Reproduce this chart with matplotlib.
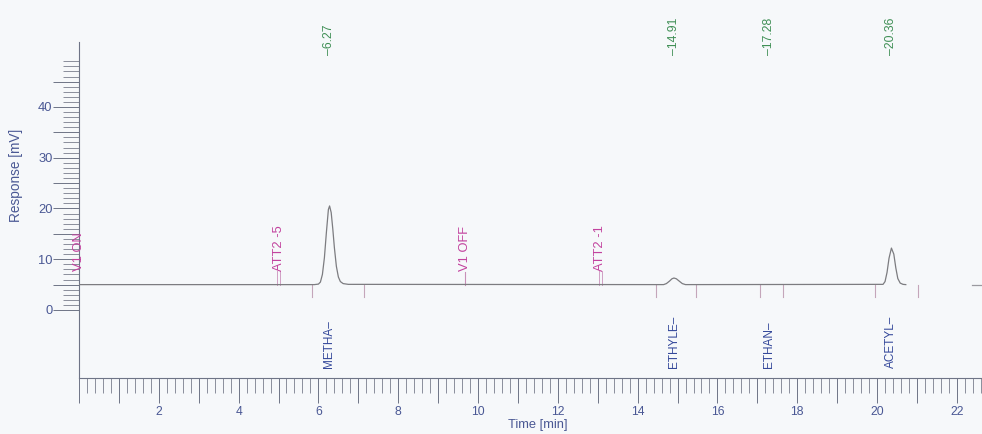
import matplotlib
matplotlib.use("Agg")
import matplotlib.pyplot as plt
from matplotlib.ticker import FixedLocator

plt.rcParams["font.family"] = ["Liberation Sans", "DejaVu Sans"]

# Detector trace: time [min] and response [mV]
time_min = [0.0, 5.90, 6.00, 6.05, 6.10, 6.15, 6.20, 6.25, 6.28, 6.32, 6.36,
            6.40, 6.45, 6.50, 6.55, 6.62, 6.75,
            14.65, 14.72, 14.80, 14.86, 14.91, 14.97, 15.04, 15.12, 15.20,
            20.15, 20.20, 20.25, 20.30, 20.36, 20.42, 20.47, 20.52, 20.58,
            20.65, 20.72]
response_mv = [5.0, 5.0, 5.1, 5.5, 7.0, 10.3, 15.3, 19.8, 20.5, 19.2, 16.0,
               12.3, 8.6, 6.5, 5.6, 5.2, 5.05,
               5.0, 5.2, 5.7, 6.15, 6.3, 6.15, 5.7, 5.2, 5.0,
               5.05, 5.6, 7.4, 10.2, 12.2, 11.0, 8.3, 6.2, 5.3,
               5.05, 5.0]
# short trace fragment at the end of the run
tail_time = [22.37, 22.63]
tail_mv = [5.0, 5.0]

# Identified peaks
peak_rt = [6.27, 14.91, 17.28, 20.36]
peak_rt_labels = ["6.27", "14.91", "17.28", "20.36"]
peak_names = ["METHA", "ETHYLE", "ETHAN", "ACETYL"]

# Integration start/stop marks
integration_marks = [5.84, 7.13, 14.45, 15.46, 17.06, 17.64, 19.96, 21.03]

# Timed events
event_names = ["V1 ON", "ATT2 -5", "V1 OFF", "ATT2 -1"]
event_times = [0.0, 5.0, 9.68, 13.06]
event_lines = [0, 2, 1, 2]

# Axis ticks
x_label_values = [2, 4, 6, 8, 10, 12, 14, 16, 18, 20, 22]
y_label_values = [0, 10, 20, 30, 40]

BG = "#f6f8fa"
AXIS = "#6e7486"
TICKLBL = "#4a5894"
EVENT = "#c2429e"
RTCOL = "#3f8f55"
NAMECOL = "#34489a"

fig = plt.figure(figsize=(9.82, 4.34), dpi=100, facecolor=BG)
ax = fig.add_axes([79 / 982, (434 - 378) / 434, (982 - 79) / 982, (378 - 42) / 434])
ax.set_facecolor(BG)
ax.set_xlim(0, 22.63)
ax.set_ylim(-13.4, 52.8)

for s in ("top", "right"):
    ax.spines[s].set_visible(False)
for s in ("left", "bottom"):
    ax.spines[s].set_color(AXIS)
    ax.spines[s].set_linewidth(0.8)

# trace
ax.plot(time_min, response_mv, color="#7c7c80", lw=0.9, zorder=3)
ax.plot(tail_time, tail_mv, color="#9a9aa0", lw=0.9, zorder=3, clip_on=False)

# integration marks below the baseline
for t in integration_marks:
    ax.plot([t, t], [5.0, 2.6], color="#c4a6ba", lw=0.8, zorder=2)

# timed events
for name, t, n in zip(event_names, event_times, event_lines):
    if n == 1:
        ax.plot([t, t], [5.0, 7.5], color="#c890b8", lw=0.8)
    elif n == 2:
        for dx in (-0.035, 0.035):
            ax.plot([t + dx, t + dx], [5.0, 7.6], color="#d0a0c4", lw=0.7)
    ax.text(t, 7.7, name, rotation=90, ha="center", va="bottom",
            color=EVENT, fontsize=9.3, clip_on=False, zorder=4)

# retention times (top) and component names (bottom)
for rt, lbl, name in zip(peak_rt, peak_rt_labels, peak_names):
    ax.text(rt, 50.2, "\u2013" + lbl, rotation=90, ha="center", va="bottom",
            color=RTCOL, fontsize=8.8, clip_on=False)
    ax.text(rt, -11.4, name + "\u2013", rotation=90, ha="center", va="bottom",
            color=NAMECOL, fontsize=8.5, clip_on=False)

# x axis: 1 min major, 0.2 min minor ticks, labels on even minutes
x_major = list(range(0, 23))
x_minor = [i / 5 for i in range(0, 114) if i % 5 != 0]
ax.xaxis.set_major_locator(FixedLocator(x_major))
ax.xaxis.set_minor_locator(FixedLocator(x_minor))
ax.set_xticklabels([str(v) if v in x_label_values else "" for v in x_major])
ax.tick_params(axis="x", which="major", direction="out", length=18, width=0.7,
               color=AXIS, labelsize=8.7, labelcolor=TICKLBL, pad=2)
ax.tick_params(axis="x", which="minor", direction="out", length=11, width=0.7,
               color="#8a8e9c")

# y axis: 5 mV long ticks, 1 mV short ticks, labels every 10 mV
y_major = list(range(0, 50, 5))
y_minor = [v for v in range(1, 50) if v % 5 != 0]
ax.yaxis.set_major_locator(FixedLocator(y_major))
ax.yaxis.set_minor_locator(FixedLocator(y_minor))
ax.set_yticklabels([str(v) if v in y_label_values else "" for v in y_major])
ax.tick_params(axis="y", which="major", direction="out", length=18.5, width=0.7,
               color=AXIS, labelsize=9.3, labelcolor=TICKLBL, pad=0.5)
ax.tick_params(axis="y", which="minor", direction="out", length=11.5, width=0.7,
               color="#8a8e9c")

fig.text(538 / 982, 1 - 425 / 434, "Time [min]", ha="center", va="center",
         color=TICKLBL, fontsize=9.3)
fig.text(16 / 982, 1 - 175 / 434, "Response [mV]", rotation=90, ha="center",
         va="center", color=TICKLBL, fontsize=9.8)

fig.savefig("out.png", dpi=100, facecolor=BG)
